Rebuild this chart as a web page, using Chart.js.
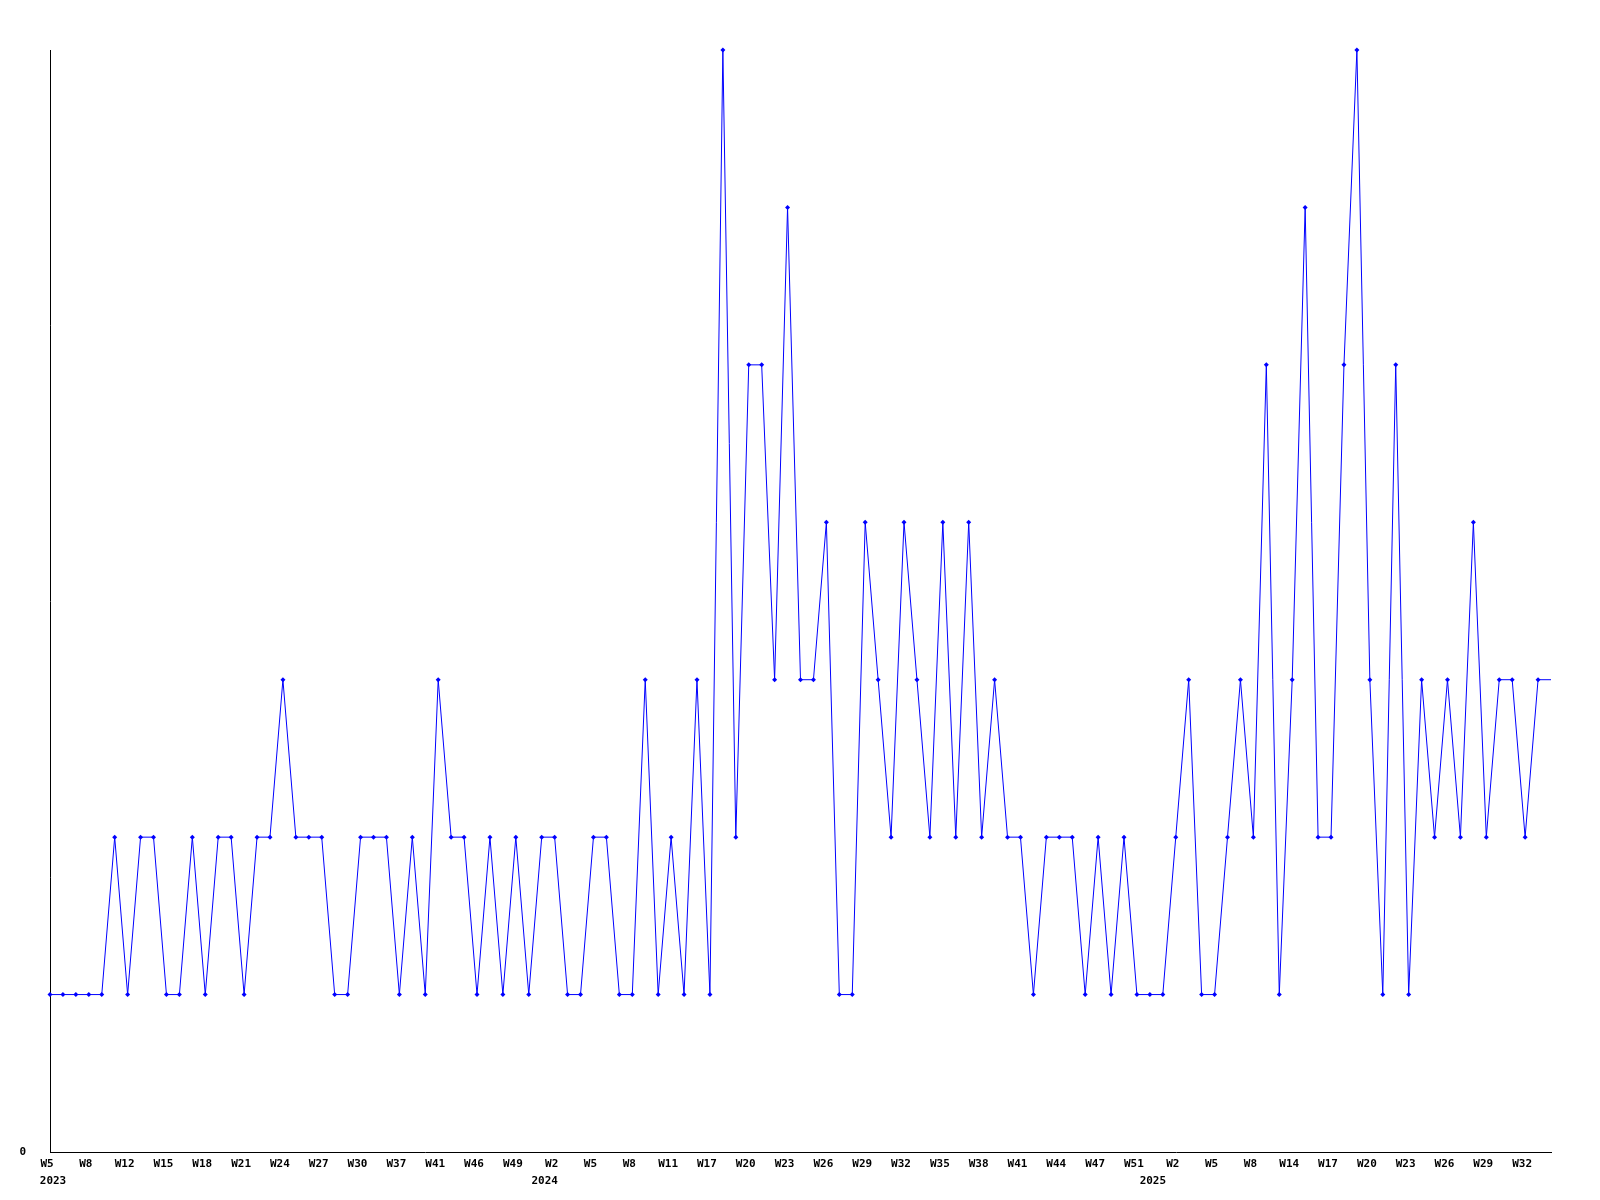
<!DOCTYPE html>
<html>
<head>
<meta charset="utf-8">
<script src="https://cdn.jsdelivr.net/npm/chart.js@4.4.7/dist/chart.umd.min.js"></script>
<style>
  html, body { margin: 0; padding: 0; background: #fff; }
  canvas { display: block; }
</style>
</head>
<body>
<canvas id="chart" width="1600" height="1200"></canvas>
<script>
// week labels, one per point (only every third one is printed)
const weeks = [
  "W5", "W6", "W7", "W8", "W9", "W10", "W12", "W13", "W14", "W15",
  "W16", "W17", "W18", "W19", "W20", "W21", "W22", "W23", "W24", "W25",
  "W26", "W27", "W28", "W29", "W30", "W32", "W35", "W37", "W38", "W40",
  "W41", "W43", "W44", "W46", "W47", "W48", "W49", "W50", "W52", "W2",
  "W3", "W4", "W5", "W6", "W7", "W8", "W9", "W10", "W11", "W13",
  "W15", "W17", "W18", "W19", "W20", "W21", "W22", "W23", "W24", "W25",
  "W26", "W27", "W28", "W29", "W30", "W31", "W32", "W33", "W34", "W35",
  "W36", "W37", "W38", "W39", "W40", "W41", "W42", "W43", "W44", "W45",
  "W46", "W47", "W48", "W50", "W51", "W52", "W1", "W2", "W3", "W4",
  "W5", "W6", "W7", "W8", "W10", "W12", "W14", "W15", "W16", "W17",
  "W18", "W19", "W20", "W21", "W22", "W23", "W24", "W25", "W26", "W27",
  "W28", "W29", "W30", "W31", "W32", "W33", "W34"
]

const years = ["2023", "2024", "2025"]
const yearStarts = [0, 38, 85]

const counts = [
  1, 1, 1, 1, 1, 2, 1, 2, 2, 1,
  1, 2, 1, 2, 2, 1, 2, 2, 3, 2,
  2, 2, 1, 1, 2, 2, 2, 1, 2, 1,
  3, 2, 2, 1, 2, 1, 2, 1, 2, 2,
  1, 1, 2, 2, 1, 1, 3, 1, 2, 1,
  3, 1, 7, 2, 5, 5, 3, 6, 3, 3,
  4, 1, 1, 4, 3, 2, 4, 3, 2, 4,
  2, 4, 2, 3, 2, 2, 1, 2, 2, 2,
  1, 2, 1, 2, 1, 1, 1, 2, 3, 1,
  1, 2, 3, 2, 5, 1, 3, 6, 2, 2,
  5, 7, 3, 1, 5, 1, 3, 2, 3, 2,
  4, 2, 3, 3, 2, 3, 3
]

const tickFont = { family: "'DejaVu Sans Mono', monospace", size: 11, weight: "bold" }

// year captions under the first week of each year
const yearLabels = {
  id: "yearLabels",
  afterDraw(chart) {
    const xs = chart.scales.x
    const ctx = chart.ctx
    ctx.save()
    ctx.font = "bold 11px 'DejaVu Sans Mono', monospace"
    ctx.fillStyle = "#000"
    ctx.textAlign = "center"
    ctx.textBaseline = "middle"
    years.forEach((y, k) => {
      ctx.fillText(y, xs.getPixelForValue(yearStarts[k]) + 3, xs.top + 29)
    })
    ctx.restore()
  }
}

new Chart(document.getElementById("chart"), {
  type: "line",
  data: {
    labels: weeks,
    datasets: [{
      data: counts,
      borderColor: "#0000ff",
      backgroundColor: "#0000ff",
      borderWidth: 1,
      tension: 0,
      fill: false,
      pointStyle: "rectRot",
      pointRadius: c => c.dataIndex === counts.length - 1 ? 0 : 2.5,
      pointBorderWidth: 0,
      pointBackgroundColor: "#0000ff",
      clip: false
    }]
  },
  options: {
    responsive: false,
    animation: false,
    layout: { padding: { top: 50, right: 49, left: 0, bottom: 0 } },
    plugins: {
      legend: { display: false },
      tooltip: { enabled: false }
    },
    scales: {
      x: {
        offset: false,
        grid: { display: false, drawTicks: false },
        border: { display: true, color: "#000", width: 1 },
        afterFit: s => { s.height = 48 },
        ticks: {
          autoSkip: false,
          maxRotation: 0,
          padding: 6,
          labelOffset: -3,
          color: "#000",
          font: tickFont,
          callback: (v, i) => i % 3 === 0 ? weeks[i] : ""
        }
      },
      y: {
        min: 0,
        max: 7,
        grid: { display: false, drawTicks: false },
        border: { display: true, color: "#000", width: 1 },
        afterFit: s => { s.width = 50 },
        ticks: {
          stepSize: 7,
          padding: 24,
          color: "#000",
          font: tickFont,
          callback: v => v === 0 ? "0" : ""
        }
      }
    }
  },
  plugins: [yearLabels]
})
</script>
</body>
</html>
